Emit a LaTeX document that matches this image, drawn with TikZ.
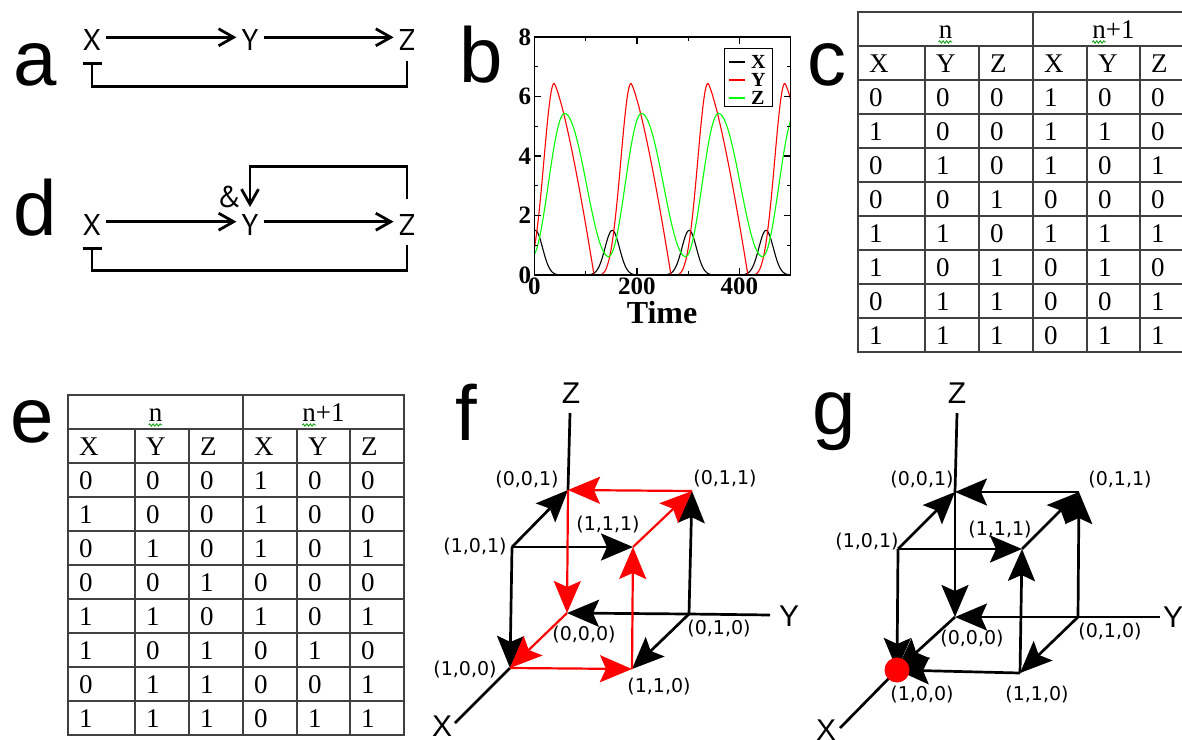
\documentclass[tikz,border=0pt]{standalone}
\usepackage{fontspec}
\setmainfont{Liberation Serif}
\newfontfamily\labelsans{Liberation Sans}
\newfontfamily\genesans{PT Sans}
\newfontfamily\statesans{DejaVu Sans}
\usetikzlibrary{arrows.meta,decorations.pathmorphing}

% truth table: #1,#2 top left corner, #3 name, #4 rows
\newcommand{\truthtable}[4]{%
  \begin{scope}[shift={(#1,#2)}]
    \draw[grid] (0,0) rectangle (336,340);
    \foreach \r in {1,...,9} \draw[grid] (0,34*\r) -- (336,34*\r);
    \draw[grid] (175,0) -- (175,340);
    \foreach \cx in {67,121,229,282} \draw[grid] (\cx,34) -- (\cx,340);
    \node[cell, anchor=base] (#3n) at (87.5,26) {n};
    \node[cell, anchor=base] (#3n1) at (255.5,26) {n+1};
    \draw[squiggle] ([yshift=-4pt]#3n.base west) -- ([yshift=-4pt]#3n.base east);
    \draw[squiggle] ([yshift=-4pt]#3n1.base west) -- ++(14,0);
    \foreach \row [count=\i from 0] in {{X,Y,Z,X,Y,Z},#4}
      \foreach \v [count=\j from 0] in \row {
        \pgfmathsetmacro\cx{{0,67,121,175,229,282}[\j]}
        \node[cell] (#3-\i-\j) at (\cx+11,60+34*\i) {\v};
      }
  \end{scope}}

\begin{document}
\begin{tikzpicture}[x=1pt, y=-1pt,
    panel/.style={font=\labelsans\fontsize{78}{78}\selectfont, anchor=base west, inner sep=0pt},
    gene/.style={font=\genesans\fontsize{30}{30}\selectfont, inner sep=5pt},
    act/.style={line width=2.8pt, -{Straight Barb[length=15pt,width=17pt]}},
    rep/.style={line width=2.8pt, -{Bar[width=19pt]}},
    grid/.style={draw=black!75, line width=1.1pt},
    cell/.style={font=\fontsize{27}{27}\selectfont, anchor=base west, inner sep=0pt},
    squiggle/.style={draw=green!60!black, line width=0.8pt, decorate,
      decoration={snake, amplitude=1.2pt, segment length=3.5pt}},
    frame/.style={line width=1.3pt},
    curve/.style={line width=1.1pt},
    ticklab/.style={font=\bfseries\fontsize{25}{25}\selectfont, inner sep=0pt},
    legtext/.style={font=\bfseries\fontsize{20}{20}\selectfont, anchor=west, inner sep=0pt},
    state/.style={font=\statesans\fontsize{19}{19}\selectfont, inner sep=0pt},
    axislab/.style={font=\labelsans\fontsize{30}{30}\selectfont, inner sep=0pt},
    cubeline/.style={line width=2.7pt},
    flow/.style={cubeline, -{Stealth[length=32pt,width=27pt,inset=6pt]}},
    redflow/.style={flow, red, line width=2.2pt},
    declare function={
      phr(\q)=mod(\q+261.5,150);
      redY(\q)=6.44*((phr(\q)<78)*(1-pow(max(phr(\q),0.01)/78,1.3))
        +(phr(\q)>84.5)*(1-cos(180*pow(max(phr(\q)-84.5,0.01)/65.5,1.6)))/2);
      phb(\q)=(mod(\q+373,150)-75)/20;
      blkX(\q)=1.5*exp(-phb(\q)*phb(\q));
      phg(\q)=mod(\q+305,150);
      grnZ(\q)=0.62+2.405*(phg(\q)<64)*(1-cos(180*min(phg(\q),64)/64))
        +2.405*(phg(\q)>64)*(1+cos(180*(max(phg(\q),64)-64)/86));
    }]
  \useasboundingbox (0,0) rectangle (1182,739);

  % panel letters
  \node[panel] (la) at (13,85) {a};
  \node[panel] (lb) at (459,82) {b};
  \node[panel] (lc) at (807,85) {c};
  \node[panel] (ld) at (13,235) {d};
  \node[panel] (le) at (10,442) {e};
  \node[panel] (lf) at (455,440) {f};
  \node[panel] (lg) at (812,434) {g};

  % a: circuit
  \node[gene] (aX) at (92,40) {X};
  \node[gene] (aY) at (250,40) {Y};
  \node[gene] (aZ) at (407,40) {Z};
  \draw[act] ([yshift=2.7pt]aX.east) -- ([yshift=2.7pt]aY.west);
  \draw[act] ([yshift=2.7pt]aY.east) -- ([yshift=2.7pt]aZ.west);
  \draw[rep] ([yshift=-5pt]aZ.south) -- ++(0,26) -| ([yshift=-6pt]aX.south);

  % d: circuit with AND input
  \node[gene] (dX) at (92,225) {X};
  \node[gene] (dY) at (250,225) {Y};
  \node[gene] (dZ) at (407,225) {Z};
  \node[gene, inner sep=0pt] (amp) at (229,197) {\&};
  \draw[act] ([yshift=3.3pt]dX.east) -- ([yshift=3.3pt]dY.west);
  \draw[act] ([yshift=3.3pt]dY.east) -- ([yshift=3.3pt]dZ.west);
  \draw[rep] ([yshift=-4pt]dZ.south) -- ++(0,26) -| ([yshift=-6pt]dX.south);
  \draw[act] ([yshift=10pt]dZ.north) -- ++(0,-33) -| ([yshift=2.3pt]dY.north);

  % b: time courses
  \begin{scope}[shift={(534.3,275)}, x=0.5128pt, y=29.75pt]
    \begin{scope}
      \clip (0,0) rectangle (500,8);
      \draw[curve, black] plot[domain=0:500, samples=401] (\x,{blkX(\x)});
      \draw[curve, red] plot[domain=0:500, samples=401] (\x,{redY(\x)});
      \draw[curve, green] plot[domain=0:500, samples=401] (\x,{grnZ(\x)});
    \end{scope}
    \draw[frame] (0,0) rectangle (500,8);
    \foreach \v/\tl in {0/7,1/4,2/7,3/4,4/7,5/4,6/7,7/4,8/7} {
      \draw[frame] (0,\v) -- ++(\tl pt,0pt);
      \draw[frame] (500,\v) -- ++(-\tl pt,0pt);
    }
    \foreach \t/\tl in {0/7,100/4,200/7,300/4,400/7,500/7} {
      \draw[frame] (\t,0) -- ++(0pt,\tl pt);
      \draw[frame] (\t,8) -- ++(0pt,-\tl pt);
    }
    \foreach \v in {0,2,4,6,8}
      \node[ticklab, anchor=east] (yt\v) at ([xshift=-3pt]0,\v) {\v};
    \foreach \t in {0,200,400}
      \node[ticklab, anchor=north] (xt\t) at ([yshift=-3pt]\t,0) {\t};
  \end{scope}
  \node[font=\bfseries\fontsize{32}{32}\selectfont, inner sep=0pt] (tlab) at (662,313) {Time};
  \draw[line width=1pt] (724.3,48.3) rectangle (772.3,106.7);
  \foreach \lab/\col/\yy in {X/black/62,Y/red/80,Z/green/98} {
    \node[legtext] (leg\lab) at (751,\yy) {\lab};
    \draw[curve, \col] ([xshift=-6pt]leg\lab.west) -- ++(-16,0);
  }

  % c and e: truth tables
  \truthtable{858}{12}{c}{{0,0,0,1,0,0},{1,0,0,1,1,0},{0,1,0,1,0,1},{0,0,1,0,0,0},
    {1,1,0,1,1,1},{1,0,1,0,1,0},{0,1,1,0,0,1},{1,1,1,0,1,1}}
  \truthtable{68}{395}{e}{{0,0,0,1,0,0},{1,0,0,1,0,0},{0,1,0,1,0,1},{0,0,1,0,0,0},
    {1,1,0,1,0,1},{1,0,1,0,1,0},{0,1,1,0,0,1},{1,1,1,0,1,1}}

  % f: state space for c
  \coordinate (f000) at (567,613);
  \coordinate (f100) at (510,668);
  \coordinate (f010) at (689,614);
  \coordinate (f110) at (632,669);
  \coordinate (f001) at (568,490);
  \coordinate (f101) at (512,547);
  \coordinate (f011) at (692,491);
  \coordinate (f111) at (633,547);
  \coordinate (fZ) at (570,413);
  \coordinate (fY) at (770,615);
  \coordinate (fX) at (455,723);
  \draw[cubeline] (f001) -- (fZ);
  \draw[cubeline] (f010) -- (fY);
  \draw[cubeline] (f100) -- (fX);
  \node[axislab] (fZl) at (571,393) {Z};
  \node[axislab] (fYl) at (789,616) {Y};
  \node[axislab] (fXl) at (442,726) {X};
  \foreach \s/\t in {101/001,101/111,101/100,010/011,010/000,010/110}
    \draw[flow] (f\s) -- (f\t);
  \foreach \s/\t in {011/001,001/000,000/100,100/110,110/111,111/011}
    \draw[redflow] (f\s) -- (f\t);
  \node[state] (fl001) at (527,480) {(0,0,1)};
  \node[state] (fl011) at (725,479) {(0,1,1)};
  \node[state] (fl111) at (608,525) {(1,1,1)};
  \node[state] (fl101) at (475,547) {(1,0,1)};
  \node[state] (fl000) at (584,635) {(0,0,0)};
  \node[state] (fl010) at (719,629) {(0,1,0)};
  \node[state] (fl100) at (465,670) {(1,0,0)};
  \node[state] (fl110) at (659,687) {(1,1,0)};

  % g: state space for e
  \coordinate (g000) at (955,617);
  \coordinate (g100) at (897,670);
  \coordinate (g010) at (1078,617);
  \coordinate (g110) at (1020,673);
  \coordinate (g001) at (955,492);
  \coordinate (g101) at (898,549);
  \coordinate (g011) at (1079,492);
  \coordinate (g111) at (1022,549);
  \coordinate (gZ) at (957,413);
  \coordinate (gY) at (1160,617);
  \coordinate (gX) at (840,728);
  \draw[cubeline] (g001) -- (gZ);
  \draw[cubeline] (g010) -- (gY);
  \draw[cubeline] (g100) -- (gX);
  \node[axislab] (gZl) at (957,393) {Z};
  \node[axislab] (gYl) at (1173,617) {Y};
  \node[axislab] (gXl) at (826,730) {X};
  \foreach \s/\t in {101/001,011/001,001/000,010/000,000/100,101/100,
      110/100,101/111,110/111,111/011,010/011,010/110}
    \draw[flow] (g\s) -- (g\t);
  \node[circle, fill=red, minimum size=25pt, inner sep=0pt] (gfix) at (g100) {};
  \node[state] (gl001) at (922,480) {(0,0,1)};
  \node[state] (gl011) at (1120,480) {(0,1,1)};
  \node[state] (gl111) at (1000,530) {(1,1,1)};
  \node[state] (gl101) at (867,542) {(1,0,1)};
  \node[state] (gl000) at (972,639) {(0,0,0)};
  \node[state] (gl010) at (1110,632) {(0,1,0)};
  \node[state] (gl100) at (922,695) {(1,0,0)};
  \node[state] (gl110) at (1037,695) {(1,1,0)};
\end{tikzpicture}
\end{document}
